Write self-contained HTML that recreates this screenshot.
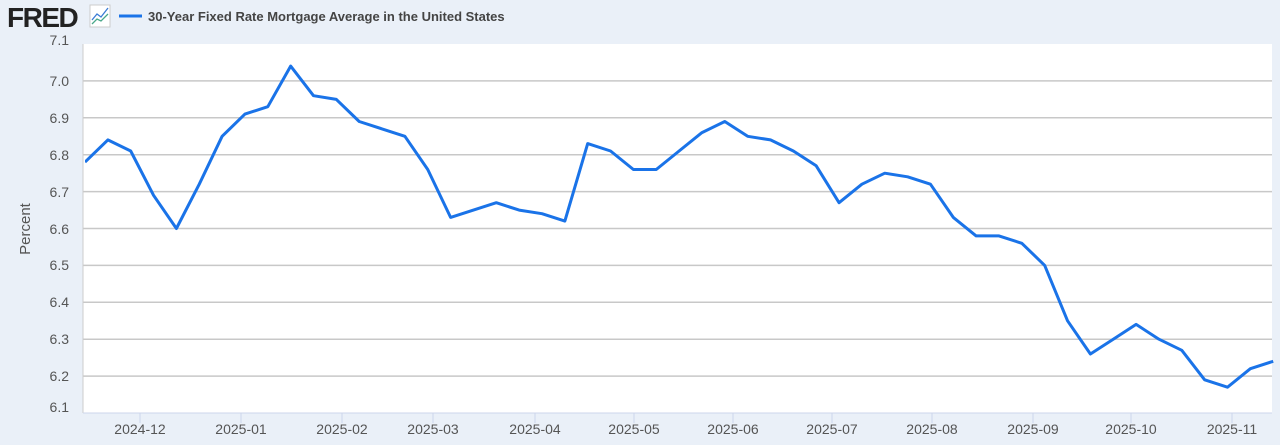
<!DOCTYPE html>
<html><head><meta charset="utf-8"><style>
html,body{margin:0;padding:0;background:#eaf0f8;}
svg{display:block;font-family:"Liberation Sans",sans-serif;}
</style></head><body>
<svg width="1280" height="445" viewBox="0 0 1280 445">
<defs><clipPath id="c"><rect x="83" y="40" width="1189" height="373"/></clipPath></defs>
<rect width="1280" height="445" fill="#eaf0f8"/>
<text x="7" y="27" font-size="28" font-weight="bold" fill="#222" letter-spacing="-1.5">FRED</text>
<rect x="90" y="5" width="20" height="22" fill="#fff" stroke="#ccc"/>
<polyline points="92,20 97,14 101,17 108,8" fill="none" stroke="#3a7bd5" stroke-width="1.3"/>
<polyline points="92,24 97,19 101,21 108,14" fill="none" stroke="#4aa88a" stroke-width="1.3"/>
<line x1="119" y1="16" x2="142" y2="16" stroke="#1a73e8" stroke-width="3"/>
<text x="148" y="21" font-size="13" font-weight="bold" fill="#444">30-Year Fixed Rate Mortgage Average in the United States</text>
<rect x="83" y="44" width="1189" height="369" fill="#fff"/>
<g stroke="#c8c8c8" stroke-width="1.5">
<line x1="83" x2="1272" y1="80.9" y2="80.9"/>
<line x1="83" x2="1272" y1="117.8" y2="117.8"/>
<line x1="83" x2="1272" y1="154.7" y2="154.7"/>
<line x1="83" x2="1272" y1="191.6" y2="191.6"/>
<line x1="83" x2="1272" y1="228.5" y2="228.5"/>
<line x1="83" x2="1272" y1="265.4" y2="265.4"/>
<line x1="83" x2="1272" y1="302.3" y2="302.3"/>
<line x1="83" x2="1272" y1="339.2" y2="339.2"/>
<line x1="83" x2="1272" y1="376.1" y2="376.1"/>
</g>
<line x1="83" x2="83" y1="44" y2="413" stroke="#ccc"/>
<line x1="83" x2="1272" y1="413" y2="413" stroke="#ccd6eb"/>
<g stroke="#ccd6eb"><line x1="140" x2="140" y1="413" y2="423"/><line x1="241" x2="241" y1="413" y2="423"/><line x1="342" x2="342" y1="413" y2="423"/><line x1="433" x2="433" y1="413" y2="423"/><line x1="535" x2="535" y1="413" y2="423"/><line x1="634" x2="634" y1="413" y2="423"/><line x1="733" x2="733" y1="413" y2="423"/><line x1="832" x2="832" y1="413" y2="423"/><line x1="932" x2="932" y1="413" y2="423"/><line x1="1033" x2="1033" y1="413" y2="423"/><line x1="1131" x2="1131" y1="413" y2="423"/><line x1="1232" x2="1232" y1="413" y2="423"/></g>
<g font-size="14" fill="#555" text-anchor="end">
<text x="69" y="45">7.1</text><text x="69" y="86">7.0</text><text x="69" y="123">6.9</text><text x="69" y="160">6.8</text><text x="69" y="197">6.7</text><text x="69" y="234">6.6</text><text x="69" y="270">6.5</text><text x="69" y="307">6.4</text><text x="69" y="344">6.3</text><text x="69" y="381">6.2</text><text x="69" y="412">6.1</text>
</g>
<g font-size="14" fill="#555" text-anchor="middle">
<text x="140" y="434">2024-12</text><text x="241" y="434">2025-01</text><text x="342" y="434">2025-02</text><text x="433" y="434">2025-03</text><text x="535" y="434">2025-04</text><text x="634" y="434">2025-05</text><text x="733" y="434">2025-06</text><text x="832" y="434">2025-07</text><text x="932" y="434">2025-08</text><text x="1033" y="434">2025-09</text><text x="1131" y="434">2025-10</text><text x="1232" y="434">2025-11</text>
</g>
<text transform="translate(30,229) rotate(-90)" font-size="15" fill="#555" text-anchor="middle">Percent</text>
<g clip-path="url(#c)" transform="translate(2,0)">
<polyline fill="none" stroke="#1a73e8" stroke-width="3" stroke-linejoin="round" points="83,162.1 105.85,139.9 128.7,151 151.55,195.3 174.4,228.5 197.25,184.2 220.1,136.3 242.95,114.1 265.8,106.7 288.65,66.1 311.5,95.7 334.35,99.4 357.2,121.5 380.05,128.9 402.9,136.3 425.75,169.5 448.6,217.4 471.45,210.1 494.3,202.7 517.15,210.1 540,213.7 562.85,221.1 585.7,143.6 608.55,151 631.4,169.5 654.25,169.5 677.1,151 699.95,132.6 722.8,121.5 745.65,136.3 768.5,139.9 791.35,151 814.2,165.8 837.05,202.7 859.9,184.2 882.75,173.2 905.6,176.8 928.45,184.2 951.3,217.4 974.15,235.9 997,235.9 1019.85,243.3 1042.7,265.4 1065.55,320.8 1088.4,354 1111.25,339.2 1134.1,324.4 1156.95,339.2 1179.8,350.3 1202.65,379.8 1225.5,387.2 1248.35,368.7 1271.2,361.3"/>
</g>
</svg>
</body></html>
